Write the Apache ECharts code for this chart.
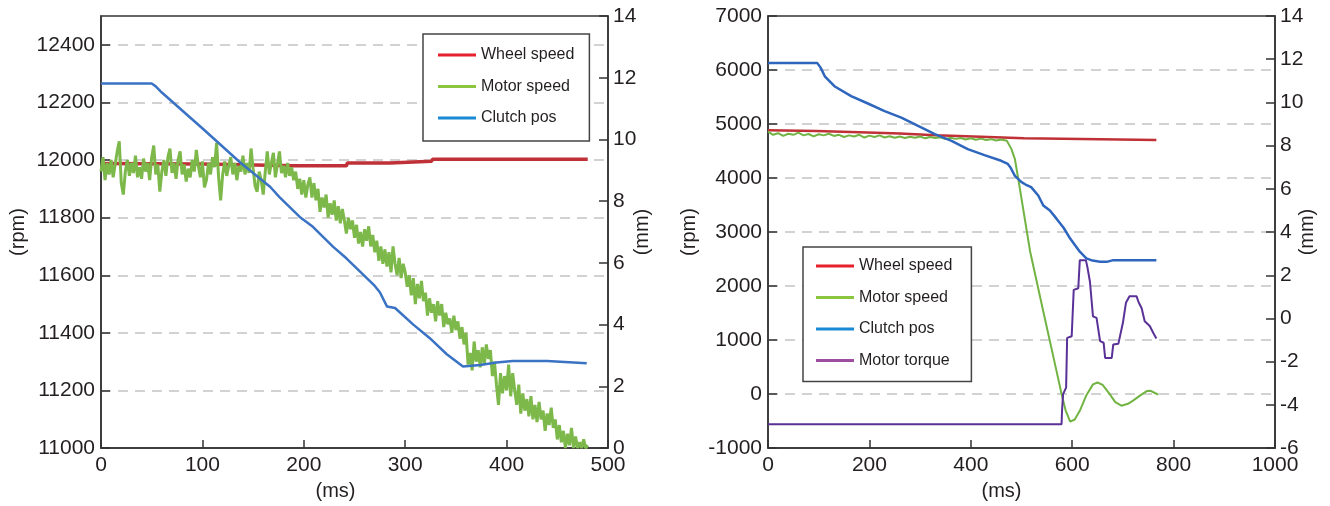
<!DOCTYPE html>
<html>
<head>
<meta charset="utf-8">
<title>Clutch engagement</title>
<script src="https://cdn.jsdelivr.net/npm/echarts/dist/echarts.min.js"></script>
<style>
  html, body { margin: 0; padding: 0; background: #fff; }
  #main { width: 1330px; height: 506px; }
</style>
</head>
<body>
<div id="main"></div>
<script>
// ---- left panel: [ms, rpm] / [ms, mm]
var wheelSpeedL = [[0, 11988], [100, 11986], [190, 11980], [242, 11980], [243, 11990], [285, 11990],
  [286, 11996], [326, 11996], [327, 12003], [480, 12003]];

// motor speed sampled every 2 ms from t = 0
var motorStepL = 2;
var motorSpeedL = [
  11960, 12010, 11930, 11990, 11950, 12000, 11940, 11985, 12030, 12065,
  11920, 11880, 11960, 12000, 11945, 11990, 11955, 12015, 11940, 11975,
  11935, 12005, 11960, 11990, 11930, 12010, 12050, 11950, 11985, 11890,
  11960, 12000, 11945, 12010, 12040, 11955, 11990, 11935, 12000, 12030,
  11950, 11985, 11925, 11970, 11940, 12000, 11960, 12035, 11980, 11940,
  11995, 11905, 11930, 11990, 11950, 12010, 11975, 12060, 11940, 11860,
  11950, 11995, 11945, 11980, 12010, 11950, 11990, 11930, 11980, 11960,
  12015, 11950, 11990, 11955, 12040, 11970, 11910, 11890, 11960, 11930,
  11880, 11960, 12030, 11950, 11990, 12025, 11940, 11985, 12030, 11955,
  11980, 11940, 11990, 11945, 11975, 11930,
  11960, 11900, 11935, 11880, 11930, 11870, 11915, 11940, 11870, 11920,
  11860, 11900, 11820, 11870, 11835, 11880, 11800, 11850, 11810, 11860,
  11790, 11840, 11780, 11830, 11790, 11745, 11800, 11760, 11790, 11730,
  11775, 11710, 11750, 11700, 11760, 11720, 11770, 11700, 11740, 11680,
  11720, 11650, 11700, 11640, 11690, 11630, 11680, 11610, 11700, 11640,
  11600, 11660, 11590, 11640, 11610, 11560, 11600, 11530, 11590, 11500,
  11570, 11520, 11580, 11510, 11540, 11460, 11520, 11470, 11500, 11440,
  11510, 11460, 11500, 11420, 11470, 11430, 11450, 11400, 11460, 11410,
  11440, 11380, 11420, 11360, 11400, 11290, 11330, 11270, 11370, 11300,
  11340, 11280, 11350, 11290, 11360, 11310, 11340, 11250, 11300, 11220,
  11150, 11260, 11190, 11250, 11200, 11290, 11180, 11260, 11200, 11150,
  11220, 11120, 11190, 11130, 11170, 11110, 11180, 11100, 11150, 11090,
  11160, 11100, 11130, 11060, 11120, 11080, 11140, 11070, 11100, 11030,
  11080, 11020, 11060, 11000, 11050, 11010, 11070, 11000, 11040, 11000,
  11020, 11000, 11030, 11000, 11010
];

var clutchPosL = [[0, 11.81], [50, 11.81], [54, 11.72], [60, 11.52], [101, 10.33], [137, 9.26],
  [167, 8.46], [176, 8.13], [196, 7.49], [209, 7.17], [229, 6.52], [242, 6.15], [269, 5.29],
  [275, 5.05], [282, 4.59], [290, 4.54], [308, 4.0], [324, 3.57], [341, 3.04], [357, 2.64],
  [374, 2.69], [390, 2.77], [406, 2.82], [440, 2.82], [479, 2.75]];

// ---- right panel
var wheelSpeedR = [[0, 4885], [95, 4870], [96, 4855], [180, 4850], [181, 4830], [260, 4825],
  [261, 4800], [330, 4790], [331, 4770], [420, 4765], [421, 4740], [505, 4735], [507, 4710], [766, 4705]];

var motorSpeedR = [[0, 4860], [10, 4800], [20, 4830], [30, 4780], [40, 4820], [50, 4800], [60, 4840],
  [70, 4790], [80, 4815], [90, 4770], [100, 4810], [110, 4790], [120, 4820], [130, 4780], [140, 4800],
  [150, 4760], [160, 4790], [170, 4770], [180, 4800], [190, 4750], [200, 4785], [210, 4760], [220, 4790],
  [230, 4750], [240, 4775], [250, 4745], [260, 4770], [270, 4740], [280, 4765], [290, 4745], [300, 4770],
  [310, 4735], [320, 4760], [330, 4740], [340, 4755], [350, 4720], [360, 4745], [370, 4725], [380, 4740],
  [390, 4715], [400, 4735], [410, 4710], [420, 4730], [430, 4705], [440, 4720], [450, 4695], [460, 4715],
  [471, 4690], [480, 4540], [487, 4350], [493, 4020], [500, 3620], [517, 2640], [543, 1530], [569, 430],
  [579, 0], [587, -300], [596, -510], [605, -470], [615, -310], [628, -20], [641, 180], [650, 214],
  [660, 170], [674, 0], [685, -150], [697, -215], [710, -180], [720, -120], [735, -20], [747, 55],
  [755, 60], [763, 20], [770, -10]];

var clutchPosR = [[0, 11.83], [97, 11.83], [104, 11.6], [112, 11.21], [131, 10.75], [164, 10.29],
  [197, 9.95], [230, 9.6], [263, 9.3], [296, 8.91], [329, 8.53], [362, 8.22], [394, 7.84], [427, 7.56],
  [460, 7.3], [473, 7.15], [478, 7.0], [487, 6.6], [500, 6.31], [508, 6.2], [519, 6.08], [533, 5.69],
  [543, 5.23], [556, 5.0], [569, 4.62], [583, 4.2], [596, 3.7], [615, 3.09], [628, 2.78], [640, 2.68],
  [655, 2.63], [668, 2.62], [681, 2.7], [766, 2.7]];

var motorTorqueR = [[0, -560], [579, -560], [580, -300], [582, 0], [588, 120], [590, 1040], [599, 1070],
  [603, 1930], [612, 1960], [615, 2480], [627, 2480], [630, 2350], [635, 2080], [641, 1440], [648, 1410],
  [655, 980], [662, 950], [665, 670], [678, 670], [681, 920], [691, 930], [700, 1320], [706, 1690],
  [713, 1810], [727, 1810], [731, 1700], [737, 1590], [743, 1350], [753, 1260], [760, 1130], [766, 1030]];

var FONT = "'Liberation Sans', Arial, Helvetica, sans-serif";
var INK = '#231f20';
var AXIS = '#333';

var motorSpeedLData = motorSpeedL.map(function (v, i) { return [i * motorStepL, v]; });

function plain(v) { return String(v); }

function xAxisOf(grid, max, interval, shift) {
  return {
    type: 'value', gridIndex: grid, min: 0, max: max, interval: interval,
    name: '(ms)', nameLocation: 'middle', nameGap: 24,
    nameTextStyle: { fontSize: 20, color: INK, fontFamily: FONT, padding: [0, shift, 0, 0] },
    axisLine: { show: true, onZero: false, lineStyle: { color: AXIS, width: 1.5 } },
    axisTick: { show: true, inside: true, length: 8, lineStyle: { color: AXIS, width: 1.5 } },
    axisLabel: { fontSize: 21, color: INK, fontFamily: FONT, margin: 7, formatter: plain },
    splitLine: { show: false }
  };
}

function leftAxisOf(grid, min, max, interval, gap) {
  return {
    type: 'value', gridIndex: grid, position: 'left', min: min, max: max, interval: interval,
    name: '(rpm)', nameLocation: 'middle', nameGap: gap, nameRotate: 90, nameMoveOverlap: false,
    nameTextStyle: { fontSize: 20, color: INK, fontFamily: FONT },
    axisLine: { show: true, onZero: false, lineStyle: { color: AXIS, width: 1.5 } },
    axisTick: { show: true, inside: true, length: 9, lineStyle: { color: AXIS, width: 1.5 } },
    axisLabel: { fontSize: 21, color: INK, fontFamily: FONT, margin: 6, formatter: plain,
      showMaxLabel: max % interval === 0 },
    splitLine: {
      show: true, showMinLine: false, showMaxLine: false,
      lineStyle: { color: '#c4c4c4', width: 1.5, type: [10, 7] }
    }
  };
}

function rightAxisOf(grid, min, max, gap) {
  return {
    type: 'value', gridIndex: grid, position: 'right', min: min, max: max, interval: 2,
    name: '(mm)', nameLocation: 'middle', nameGap: gap, nameRotate: 90, nameMoveOverlap: false,
    nameTextStyle: { fontSize: 20, color: INK, fontFamily: FONT },
    axisLine: { show: true, onZero: false, lineStyle: { color: AXIS, width: 1.5 } },
    axisTick: { show: true, inside: true, length: 9, lineStyle: { color: AXIS, width: 1.5 } },
    axisLabel: { fontSize: 21, color: INK, fontFamily: FONT, margin: 5, formatter: plain },
    splitLine: { show: false }
  };
}

function legendOf(left, top, pad, names) {
  var colors = { 'Wheel speed': '#e6202d', 'Motor speed': '#8cc63e', 'Clutch pos': '#1a8ad4', 'Motor torque': '#9d4ea0' };
  return {
    orient: 'vertical', left: left, top: top, padding: pad,
    icon: 'rect', itemWidth: 38, itemHeight: 3, itemGap: 13.5,
    borderColor: '#444', borderWidth: 1.5, backgroundColor: '#fff',
    textStyle: { fontSize: 16, lineHeight: 18, color: INK, fontFamily: FONT },
    selectedMode: false,
    data: names.map(function (n) { return { name: n, itemStyle: { color: colors[n] } }; })
  };
}

function lineOf(name, data, xi, yi, color, width) {
  return {
    name: name, type: 'line', xAxisIndex: xi, yAxisIndex: yi, data: data,
    symbol: 'none', showSymbol: false, silent: true,
    lineStyle: { color: color, width: width },
    itemStyle: { color: color }
  };
}

var myChart = echarts.init(document.getElementById('main'));
var option = {
  animation: false,
  textStyle: { fontFamily: FONT },
  grid: [
    { left: 101, top: 16, width: 507, height: 435, show: true, borderColor: AXIS, borderWidth: 1.5 },
    { left: 768, top: 16, width: 507, height: 435, show: true, borderColor: AXIS, borderWidth: 1.5 }
  ],
  xAxis: [xAxisOf(0, 500, 100, 38), xAxisOf(1, 1000, 200, 40)],
  yAxis: [
    leftAxisOf(0, 11000, 12500, 200, 73),
    rightAxisOf(0, 0, 14, 24),
    leftAxisOf(1, -1000, 7000, 1000, 69),
    rightAxisOf(1, -6, 14, 22)
  ],
  legend: [
    legendOf(423, 34, [12, 15, 14, 15], ['Wheel speed', 'Motor speed', 'Clutch pos']),
    legendOf(803, 247, [10, 19, 12, 13], ['Wheel speed', 'Motor speed', 'Clutch pos', 'Motor torque'])
  ],
  series: [
    lineOf('Wheel speed', wheelSpeedL, 0, 0, '#bf3136', 3.5),
    lineOf('Motor speed', motorSpeedLData, 0, 0, '#7db84a', 3),
    lineOf('Clutch pos', clutchPosL, 0, 1, '#3a72c4', 2.5),
    lineOf('Wheel speed', wheelSpeedR, 1, 2, '#bf3136', 2.5),
    lineOf('Motor speed', motorSpeedR, 1, 2, '#72b443', 2),
    lineOf('Clutch pos', clutchPosR, 1, 3, '#2e66bd', 2.5),
    lineOf('Motor torque', motorTorqueR, 1, 2, '#5a3197', 2)
  ]
};
myChart.setOption(option);
window.onresize = myChart.resize;
</script>
</body>
</html>
